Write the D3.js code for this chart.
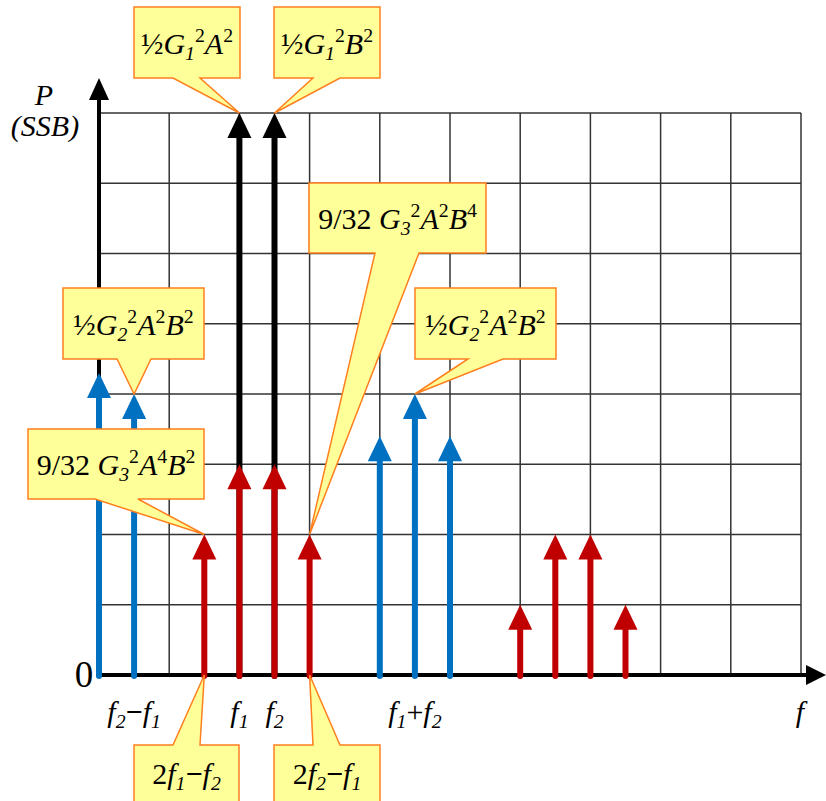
<!DOCTYPE html>
<html>
<head>
<meta charset="utf-8">
<script src="https://cdn.jsdelivr.net/npm/d3@7"></script>
<style>
  body { margin: 0; background: #fff; }
  svg { display: block; }
</style>
</head>
<body>
<div id="chart"></div>
<script>
// spectrum lines, frequency in half-grid units, power in grid units
const blackFreqs = [4, 5];
const blackPower = [8, 8];
const blueFreqs = [0, 1, 8, 9, 10];
const bluePower = [4.3, 4, 3.4, 4, 3.4];
const redFreqs = [3, 4, 5, 6, 12, 13, 14, 15];
const redPower = [2, 3, 3, 2, 1, 2, 2, 1];

// tick labels under the axis
const tickFreqs = [1, 4, 5, 9];
const tickLabels = ["f_2−f_1", "f_1", "f_2", "f_1+f_2"];

// callouts: anchor frequency / power and their text
const calloutFreqs = [4, 5, 6, 1, 3, 9, 3, 6];
const calloutPower = [8, 8, 2, 4, 2, 4, 0, 0];
const calloutTexts = [
  "½G_1^2A^2", "½G_1^2B^2", "9/32 G_3^2A^2B^4", "½G_2^2A^2B^2",
  "9/32 G_3^2A^4B^2", "½G_2^2A^2B^2", "2f_1−f_2", "2f_2−f_1"
];

const width = 826, height = 801;
const font = '"Times New Roman"';

const svg = d3.select("#chart")
  .append("svg")
  .attr("width", width)
  .attr("height", height);

const x = d3.scaleLinear().domain([0, 20]).range([99, 801]);
const y = d3.scaleLinear().domain([0, 8]).range([675, 113]);

// grid
svg.append("g")
  .selectAll("line")
  .data(d3.range(2, 21, 2))
  .enter()
  .append("line")
  .attr("x1", d => x(d)).attr("x2", d => x(d))
  .attr("y1", y(0)).attr("y2", y(8))
  .style("stroke", "#333")
  .style("stroke-width", 1.5);

svg.append("g")
  .selectAll("line")
  .data(d3.range(1, 9))
  .enter()
  .append("line")
  .attr("x1", x(0)).attr("x2", x(20))
  .attr("y1", d => y(d)).attr("y2", d => y(d))
  .style("stroke", "#333")
  .style("stroke-width", 1.5);

// axes with arrow heads
svg.append("line")
  .attr("x1", x(0)).attr("x2", 812)
  .attr("y1", y(0)).attr("y2", y(0))
  .style("stroke", "black").style("stroke-width", 4);
svg.append("path")
  .attr("d", `M826,${y(0)} L806,${y(0) - 10} L806,${y(0) + 10} Z`)
  .attr("fill", "black");

svg.append("line")
  .attr("x1", x(0)).attr("x2", x(0))
  .attr("y1", y(0) + 2).attr("y2", 92)
  .style("stroke", "black").style("stroke-width", 4);
svg.append("path")
  .attr("d", `M${x(0)},78 L${x(0) - 10},100 L${x(0) + 10},100 Z`)
  .attr("fill", "black");

// plain text helper
function label(px, py, str, size, italic) {
  return svg.append("text")
    .attr("x", px).attr("y", py)
    .attr("text-anchor", "middle")
    .style("font-family", font)
    .style("font-size", size + "px")
    .style("font-style", italic ? "italic" : "normal")
    .text(str);
}

// rich text: "_c" subscript, "^c" superscript
function richText(sel, str, size) {
  const segs = [];
  for (let i = 0; i < str.length; i++) {
    const c = str[i];
    if ((c === "_" || c === "^") && i + 1 < str.length) {
      segs.push({ t: str[i + 1], k: c === "_" ? "sub" : "sup" });
      i++;
    } else {
      segs.push({ t: c, k: "base" });
    }
  }
  let cur = 0;
  segs.forEach(s => {
    const target = s.k === "sub" ? size * 0.2 : s.k === "sup" ? -size * 0.4 : 0;
    const italic = s.k === "sub" || /[A-Za-z]/.test(s.t);
    const ts = sel.append("tspan")
      .attr("dy", target - cur)
      .style("font-family", font)
      .style("font-size", (s.k === "base" ? size : size * 0.66) + "px")
      .style("font-style", italic ? "italic" : "normal")
      .text(s.t);
    if (s.t === "−") ts.style("font-weight", "bold");
    cur = target;
  });
}

// arrows
function drawArrows(freqs, power, color) {
  const g = svg.append("g");
  const data = freqs.map((f, i) => [f, power[i]]);
  g.selectAll("line")
    .data(data)
    .enter()
    .append("line")
    .attr("x1", d => x(d[0])).attr("x2", d => x(d[0]))
    .attr("y1", y(0) + 1)
    .attr("y2", d => y(d[1]) + 20)
    .style("stroke", color)
    .style("stroke-width", 6)
    .style("stroke-linecap", "round");
  g.selectAll("path")
    .data(data)
    .enter()
    .append("path")
    .attr("d", d => {
      const px = x(d[0]), py = y(d[1]);
      return `M${px},${py} L${px - 12},${py + 25} L${px + 12},${py + 25} Z`;
    })
    .attr("fill", color);
}

drawArrows(blackFreqs, blackPower, "black");
drawArrows(blueFreqs, bluePower, "#0070C0");
drawArrows(redFreqs, redPower, "#C00000");

// axis text
svg.selectAll(".tick-label")
  .data(tickFreqs)
  .enter()
  .append("text")
  .attr("class", "tick-label")
  .attr("x", d => x(d))
  .attr("y", 722)
  .attr("text-anchor", "middle")
  .style("font-family", font)
  .each(function(d, i) { richText(d3.select(this), tickLabels[i], 30); });

label(800, 722, "f", 30, true);
label(84, 687, "0", 37, false);
label(44, 105, "P", 30, true);
label(45, 136, "(SSB)", 30, true);

// callout boxes: [left, top, right, bottom, pointer base a, pointer base b]
const boxes = [
  [134, 7, 240, 78, 173, 200],
  [274, 7, 380, 78, 313, 340],
  [309, 183, 486, 253, 375, 419],
  [63, 288, 204, 359, 117, 151],
  [28, 429, 204, 499, 95, 138],
  [415, 288, 556, 359, 468, 503],
  [134, 745, 239, 812, 173, 200],
  [274, 745, 380, 812, 313, 340]
];

const callouts = svg.append("g");
boxes.forEach((b, i) => {
  const [x0, y0, x1, y1, xa, xb] = b;
  const tx = x(calloutFreqs[i]), ty = y(calloutPower[i]);
  let d;
  if (ty > y1) {
    d = `M${x0},${y0} L${x1},${y0} L${x1},${y1} L${xb},${y1} L${tx},${ty} L${xa},${y1} L${x0},${y1} Z`;
  } else {
    d = `M${x0},${y0} L${xa},${y0} L${tx},${ty} L${xb},${y0} L${x1},${y0} L${x1},${y1} L${x0},${y1} Z`;
  }
  callouts.append("path")
    .attr("d", d)
    .attr("fill", "#FFFF99")
    .style("stroke", "#FF7F1E")
    .style("stroke-width", 1.5)
    .style("stroke-linejoin", "miter");
  const by = ty > y1 ? (y0 + y1) / 2 + 11 : y0 + 39;
  const t = callouts.append("text")
    .attr("x", (x0 + x1) / 2)
    .attr("y", by)
    .attr("text-anchor", "middle")
    .style("font-family", font);
  richText(t, calloutTexts[i], 30);
});
</script>
</body>
</html>
